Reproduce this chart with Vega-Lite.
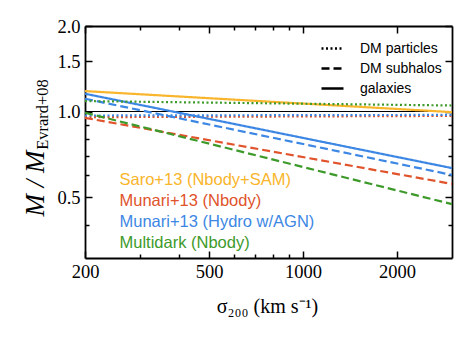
{
  "$schema": "https://vega.github.io/schema/vega-lite/v6.json",
  "width": 367,
  "height": 232,
  "autosize": "none",
  "padding": {"left": 85, "top": 26, "right": 19, "bottom": 84},
  "background": "white",
  "config": {
    "view": {"stroke": null},
    "axis": {
      "grid": false,
      "domainColor": "black",
      "tickColor": "black",
      "domainWidth": 1.8,
      "tickWidth": 1.5,
      "labelColor": "black",
      "titleColor": "black",
      "labelFont": "Liberation Serif",
      "labelFontSize": 18.5,
      "titleFont": "Liberation Serif",
      "titleFontWeight": "normal"
    }
  },
  "data": {
    "values": [
      {"series": "Saro+13 (Nbody+SAM)", "kind": "galaxies", "sigma": 200, "ratio": 1.18},
      {"series": "Saro+13 (Nbody+SAM)", "kind": "galaxies", "sigma": 3000, "ratio": 0.995},
      {"series": "Munari+13 (Nbody)", "kind": "DM particles", "sigma": 200, "ratio": 0.955},
      {"series": "Munari+13 (Nbody)", "kind": "DM particles", "sigma": 3000, "ratio": 0.965},
      {"series": "Munari+13 (Nbody)", "kind": "DM subhalos", "sigma": 200, "ratio": 0.95},
      {"series": "Munari+13 (Nbody)", "kind": "DM subhalos", "sigma": 3000, "ratio": 0.556},
      {"series": "Munari+13 (Hydro w/AGN)", "kind": "DM particles", "sigma": 200, "ratio": 0.968},
      {"series": "Munari+13 (Hydro w/AGN)", "kind": "DM particles", "sigma": 3000, "ratio": 0.973},
      {"series": "Munari+13 (Hydro w/AGN)", "kind": "DM subhalos", "sigma": 200, "ratio": 1.109},
      {"series": "Munari+13 (Hydro w/AGN)", "kind": "DM subhalos", "sigma": 3000, "ratio": 0.598},
      {"series": "Munari+13 (Hydro w/AGN)", "kind": "galaxies", "sigma": 200, "ratio": 1.155},
      {"series": "Munari+13 (Hydro w/AGN)", "kind": "galaxies", "sigma": 3000, "ratio": 0.632},
      {"series": "Multidark (Nbody)", "kind": "DM particles", "sigma": 200, "ratio": 1.088},
      {"series": "Multidark (Nbody)", "kind": "DM particles", "sigma": 3000, "ratio": 1.05},
      {"series": "Multidark (Nbody)", "kind": "DM subhalos", "sigma": 200, "ratio": 0.99},
      {"series": "Multidark (Nbody)", "kind": "DM subhalos", "sigma": 3000, "ratio": 0.472}
    ]
  },
  "layer": [
    {
      "mark": {"type": "rule", "color": "black", "strokeWidth": 1},
      "encoding": {
        "y": {"datum": 1, "type": "quantitative", "axis": null}
      }
    },
    {
      "mark": {"type": "line", "strokeWidth": 2.2, "strokeCap": "butt"},
      "encoding": {
        "x": {
          "field": "sigma", "type": "quantitative",
          "scale": {"type": "log", "domain": [200, 3000], "nice": false},
          "axis": {
            "orient": "bottom", "values": [200, 500, 1000, 2000], "format": "d",
            "tickSize": -7, "labelPadding": 11, "labelFlush": false,
            "title": "σ₂₀₀ (km s⁻¹)", "titleFontSize": 20, "titleFontWeight": "normal",
            "titleBaseline": "alphabetic", "titleAlign": "center", "titleX": 182, "titleY": 54
          }
        },
        "y": {
          "field": "ratio", "type": "quantitative",
          "scale": {"type": "log", "domain": [0.305, 2.0], "nice": false},
          "axis": {
            "orient": "left", "values": [0.5, 1, 1.5, 2], "format": ".1f",
            "tickSize": -7, "labelPadding": 12,
            "title": "M / M", "titleFontStyle": "italic", "titleFontSize": 27, "titleFontWeight": "normal",
            "titleAngle": -90, "titleAlign": "center", "titleBaseline": "alphabetic",
            "titleX": -42, "titleY": 157
          }
        },
        "color": {
          "field": "series", "type": "nominal",
          "scale": {
            "domain": ["Saro+13 (Nbody+SAM)", "Munari+13 (Nbody)", "Munari+13 (Hydro w/AGN)", "Multidark (Nbody)"],
            "range": ["#f9b52b", "#e0532b", "#3d87e4", "#3d9a2a"]
          },
          "legend": {
            "orient": "none", "legendX": 18, "legendY": 146, "title": null,
            "symbolSize": 0, "symbolOpacity": 0, "symbolStrokeWidth": 0,
            "labelOffset": 0, "labelFont": "Liberation Sans", "labelFontSize": 16.5,
            "rowPadding": 4, "padding": 0, "labelLimit": 300,
            "encode": {"labels": {"update": {"fill": {"scale": "color", "field": "value"}}}}
          }
        },
        "strokeDash": {
          "field": "kind", "type": "nominal",
          "scale": {
            "domain": ["DM particles", "DM subhalos", "galaxies"],
            "range": [[2, 2.5], [8, 4], [1, 0]]
          },
          "legend": {
            "orient": "none", "legendX": 235, "legendY": 10, "title": null,
            "symbolType": "stroke", "symbolSize": 484, "symbolStrokeColor": "black",
            "symbolStrokeWidth": 2.5, "labelOffset": 15,
            "labelFont": "Liberation Sans", "labelFontSize": 14,
            "rowPadding": -2, "padding": 0
          }
        }
      }
    },
    {
      "mark": {"type": "point", "opacity": 0},
      "encoding": {
        "x": {"field": "sigma", "type": "quantitative",
          "axis": {"orient": "bottom", "values": [300, 400, 600, 700, 800, 900], "tickSize": -4, "labels": false, "domain": false, "title": null}},
        "y": {"field": "ratio", "type": "quantitative",
          "axis": {"orient": "left", "values": [0.4, 0.6, 0.7, 0.8, 0.9], "tickSize": -4, "labels": false, "domain": false, "title": null}}
      }
    },
    {
      "mark": {"type": "point", "opacity": 0},
      "encoding": {
        "x": {"field": "sigma", "type": "quantitative",
          "axis": {"orient": "top", "values": [200, 500, 1000, 2000], "tickSize": -7, "labels": false, "title": null}},
        "y": {"field": "ratio", "type": "quantitative",
          "axis": {"orient": "right", "values": [0.5, 1, 1.5, 2], "tickSize": -7, "labels": false, "title": null}}
      }
    },
    {
      "mark": {"type": "point", "opacity": 0},
      "encoding": {
        "x": {"field": "sigma", "type": "quantitative",
          "axis": {"orient": "top", "values": [300, 400, 600, 700, 800, 900], "tickSize": -4, "labels": false, "domain": false, "title": null}},
        "y": {"field": "ratio", "type": "quantitative",
          "axis": {"orient": "right", "values": [0.4, 0.6, 0.7, 0.8, 0.9], "tickSize": -4, "labels": false, "domain": false, "title": null}}
      }
    },
    {
      "mark": {"type": "point", "opacity": 0},
      "encoding": {
        "x": {"field": "sigma", "type": "quantitative", "axis": null},
        "y": {"field": "ratio", "type": "quantitative",
          "axis": {"orient": "left", "labels": false, "ticks": false, "domain": false,
            "title": "Evrard+08", "titleFont": "Liberation Serif", "titleFontSize": 16.5, "titleFontWeight": "normal",
            "titleAngle": -90, "titleAlign": "center", "titleBaseline": "alphabetic",
            "titleX": -38, "titleY": 88}}
      }
    }
  ],
  "resolve": {"axis": {"x": "independent", "y": "independent"}}
}
